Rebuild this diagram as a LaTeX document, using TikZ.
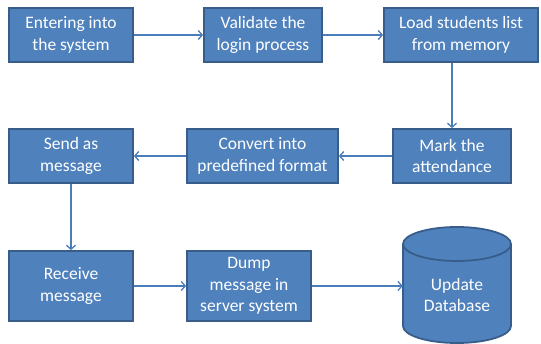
\documentclass[tikz,border=0pt]{standalone}
\usepackage{fontspec}
\setmainfont{Carlito}
\usetikzlibrary{arrows.meta}
\definecolor{BoxFill}{HTML}{4F81BD}
\definecolor{BoxLine}{HTML}{385D8A}
\definecolor{Wire}{HTML}{4A7EBB}
\tikzset{boxtext/.style={align=center,text=white,font=\fontsize{17.5}{21.5}\selectfont},
box/.style={boxtext,fill=BoxFill,draw=BoxLine,line width=1.8pt,inner sep=2pt},
flow/.style={-{Straight Barb[length=4pt,width=9pt]},draw=Wire,line width=1.3pt}}

\begin{document}
\begin{tikzpicture}[x=1pt,y=-1pt]
\useasboundingbox (0,0) rectangle (541,344);
\node[box,minimum width=124pt,minimum height=54pt] (enter) at (71,35) {Entering into\\the system};
\node[box,minimum width=118pt,minimum height=54pt] (valid) at (263,35) {Validate the\\login process};
\node[box,minimum width=154pt,minimum height=54pt] (load) at (461,35) {Load students list\\from memory};
\node[box,minimum width=118pt,minimum height=54pt] (mark) at (452,156) {Mark the\\attendance};
\node[box,minimum width=151pt,minimum height=54pt] (conv) at (262.5,156) {Convert into\\predefined format};
\node[box,minimum width=124pt,minimum height=54pt] (send) at (71,156) {Send as\\message};
\node[box,minimum width=124pt,minimum height=70pt] (recv) at (71,286) {Receive\\message};
\node[box,minimum width=124pt,minimum height=70pt] (dump) at (249,286) {Dump\\message in\\server system};
% database drum
\filldraw[fill=BoxFill,draw=BoxLine,line width=1.8pt] (403,244) -- (403,326) arc (180:360:54pt and 17pt)
  -- (511,244) arc (0:180:54pt and 17pt) -- cycle;
\draw[BoxLine,line width=1.8pt] (403,244) arc (180:360:54pt and 17pt);
\node[boxtext,minimum width=108pt] (db) at (457,295) {Update\\Database};
\draw[flow] (enter) -- (valid);
\draw[flow] (valid) -- (load);
\draw[flow] (load.south -| mark.north) -- (mark);
\draw[flow] (mark) -- (conv);
\draw[flow] (conv) -- (send);
\draw[flow] (send) -- (recv);
\draw[flow] (recv) -- (dump);
\draw[flow] (dump) -- (dump -| db.west);
\end{tikzpicture}
\end{document}
